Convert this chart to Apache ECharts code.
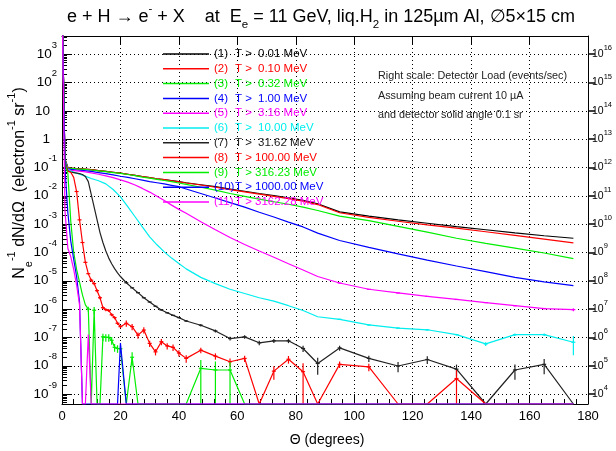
<!DOCTYPE html>
<html>
<head>
<meta charset="utf-8">
<script src="https://cdn.jsdelivr.net/npm/echarts@6/dist/echarts.min.js"></script>
<style>
html, body { margin: 0; padding: 0; background: #fff; }
#main { width: 616px; height: 451px; }
</style>
</head>
<body>
<div id="main"></div>
<script>
// bin centres (degrees)
var thetaA = [0.1, 1, 2, 3, 5, 7.5, 10, 12.5, 15, 17.5, 20, 22.5, 25, 27.5, 30, 32.5, 35, 37.5, 40,
  42.5, 47.5, 52.5, 57.5, 62.5, 67.5, 72.5, 77.5, 82.5, 87.5, 95, 105, 115, 125, 135, 145, 155, 165, 175];
var thetaB = [0.1, 1, 2, 3, 4, 5, 6, 7, 8, 9, 10, 11, 12, 13, 14, 15, 16, 17, 18, 19, 20,
  22, 24, 26, 28, 30, 32, 34, 36, 38, 40,
  42.5, 47.5, 52.5, 57.5, 62.5, 67.5, 72.5, 77.5, 82.5, 87.5, 95, 105, 115, 125, 135, 145, 155, 165, 175];

var Z = -99; // empty bin -> drawn on the bottom of the frame

// log10( Ne^-1 dN/dOmega )
var lg1 = [4.5, -0.7, -1.0, -1.02, -1.04, -1.06, -1.08, -1.11, -1.14, -1.17, -1.2, -1.24, -1.28, -1.32, -1.36, -1.4, -1.43, -1.46, -1.5,
  -1.54, -1.61, -1.68, -1.76, -1.84, -1.92, -1.99, -2.07, -2.16, -2.28, -2.57, -2.72, -2.85, -2.97, -3.09, -3.2, -3.31, -3.41, -3.5];
var lg2 = [4.5, -0.7, -1.0, -1.02, -1.04, -1.06, -1.08, -1.11, -1.14, -1.17, -1.2, -1.24, -1.28, -1.32, -1.36, -1.4, -1.43, -1.47, -1.51,
  -1.55, -1.62, -1.7, -1.78, -1.86, -1.94, -2.02, -2.1, -2.19, -2.31, -2.6, -2.76, -2.9, -3.03, -3.14, -3.27, -3.4, -3.53, -3.66];
var lg3 = [4.5, -0.72, -1.02, -1.03, -1.05, -1.07, -1.09, -1.12, -1.15, -1.18, -1.21, -1.25, -1.29, -1.34, -1.38, -1.42, -1.46, -1.5, -1.55,
  -1.6, -1.7, -1.8, -1.92, -2.02, -2.12, -2.21, -2.3, -2.4, -2.52, -2.72, -2.88, -3.08, -3.28, -3.5, -3.68, -3.85, -4.02, -4.22];
var lg4 = [4.5, -0.75, -1.05, -1.07, -1.09, -1.11, -1.14, -1.18, -1.22, -1.26, -1.31, -1.35, -1.4, -1.45, -1.5, -1.54, -1.58, -1.63, -1.68,
  -1.76, -1.92, -2.08, -2.24, -2.4, -2.58, -2.75, -2.93, -3.1, -3.32, -3.58, -3.82, -4.05, -4.27, -4.48, -4.68, -4.88, -5.04, -5.17];
var lg5 = [4.5, -0.77, -1.07, -1.1, -1.12, -1.15, -1.19, -1.24, -1.3, -1.36, -1.44, -1.52, -1.62, -1.74, -1.87, -2.02, -2.17, -2.33, -2.48,
  -2.62, -2.92, -3.2, -3.47, -3.72, -3.95, -4.17, -4.4, -4.62, -4.85, -5.08, -5.3, -5.43, -5.55, -5.66, -5.77, -5.88, -5.98, -6.02];
var lg6 = [4.5, -0.78, -1.08, -1.13, -1.2, -1.29, -1.39, -1.47, -1.58, -1.78, -2.04, -2.38, -2.74, -3.1, -3.45, -3.73, -3.98, -4.2, -4.39,
  -4.58, -4.88, -5.1, -5.3, -5.45, -5.6, -5.72, -5.88, -6.05, -6.27, -6.36, -6.56, -6.67, -6.73, -6.9, -7.23, -6.9, -6.9, -7.17];

var lg7 = [4.5, -0.8, -1.12, -1.16, -1.18, -1.2, -1.22, -1.25, -1.32, -1.5, -1.95, -2.4, -2.85, -3.3, -3.65, -3.95, -4.2, -4.4, -4.57, -4.72, -4.85,
  -5.07, -5.25, -5.42, -5.6, -5.75, -5.9, -6.03, -6.13, -6.22, -6.3,
  -6.42, -6.57, -6.77, -7.04, -6.98, -7.19, -7.12, -7.12, -7.39, -7.92, -7.37, -7.74, -8.01, -7.78, -8.12, Z, -8.15, -7.95, Z];
var lg8 = [4.5, -0.85, -1.13, -1.17, -1.35, -1.85, -2.85, -3.65, -4.35, -4.75, -4.98, -5.1, -5.35, -5.6, -5.95, -6.02, -6.05, -6.2, -6.3, -6.5, -6.62,
  -6.5, -6.62, -6.92, -6.74, -7.21, -7.51, -7.15, -7.3, -7.35, -7.55,
  -7.74, -7.45, -7.66, -7.86, -7.74, Z, -8.19, -7.77, -8.21, Z, -7.95, -8.04, Z, Z, -8.45, Z, Z, Z, Z];
var lg9 = [4.5, -0.9, -1.2, -2.9, -4.0, -4.6, -5.05, -5.5, -5.85, -6.0, Z, -6.04, Z, Z, -6.98, -7.0, -7.0, -7.1, -7.35, -7.39, -7.4,
  Z, -7.7, Z, Z, Z, Z, Z, Z, Z, Z,
  Z, -8.09, -8.15, -8.15, Z, Z, Z, Z, Z, Z, Z, Z, Z, Z, Z, Z, Z, Z, Z];
var lg10 = [4.5, -1.0, -2.6, -3.6, -4.25, -4.85, -5.75, Z, Z, Z, Z, Z, Z, Z, Z, Z, Z, Z, Z, Z, -7.2,
  Z, Z, Z, Z, Z, Z, Z, Z, Z, Z,
  Z, Z, Z, Z, Z, Z, Z, Z, Z, Z, Z, Z, Z, Z, Z, Z, Z, Z, Z];
var lg11 = [4.5, -2.5, -3.85, -4.15, -4.6, -5.15, -5.85, Z, Z, -6.9, Z, Z, Z, Z, Z, Z, Z, Z, Z, Z, Z,
  Z, Z, Z, Z, Z, Z, Z, Z, Z, Z,
  Z, Z, Z, Z, Z, Z, Z, Z, Z, Z, Z, Z, Z, Z, Z, Z, Z, Z, Z];

// relative statistical errors (fraction of the value), 0 = no bar drawn
var err5 = [0, 0, 0, 0, 0, 0, 0, 0, 0, 0, 0, 0, 0, 0, 0, 0, 0, 0, 0,
  0, 0, 0, 0, 0, 0, 0, 0, 0, 0, 0.02, 0.02, 0.03, 0.03, 0.03, 0.04, 0.04, 0.05, 0.12];
var err6 = [0, 0, 0, 0, 0, 0, 0, 0, 0, 0, 0, 0, 0, 0, 0, 0, 0, 0, 0,
  0, 0, 0, 0, 0, 0, 0, 0, 0, 0, 0.03, 0.04, 0.05, 0.05, 0.06, 0.15, 0.1, 0.1, 0.65];
var err7 = [0, 0, 0, 0, 0, 0, 0, 0, 0, 0, 0, 0, 0, 0, 0, 0, 0, 0, 0, 0, 0,
  0.04, 0.04, 0.04, 0.04, 0.04, 0.05, 0.05, 0.05, 0.05, 0.05,
  0.08, 0.1, 0.12, 0.15, 0.14, 0.18, 0.17, 0.17, 0.25, 0.6, 0.2, 0.25, 0.4, 0.3, 0.45, 0, 0.55, 0.55, 0];
var err8 = [0, 0, 0, 0, 0, 0.04, 0.04, 0.04, 0.04, 0.04, 0.12, 0.12, 0.12, 0.12, 0.12, 0.12, 0.12, 0.12, 0.12, 0.12, 0.12,
  0.25, 0.25, 0.25, 0.25, 0.25, 0.25, 0.25, 0.25, 0.25, 0.25,
  0.3, 0.22, 0.25, 0.3, 0.25, 0, 0.5, 0.3, 1, 0, 0.25, 0.3, 0, 0, 1, 0, 0, 0, 0];
var err9 = [0, 0, 0, 0, 0, 0, 0, 0, 0, 0.2, 0, 0.3, 0, 0, 0.3, 0.3, 0.3, 0.3, 0.3, 0.3, 0.3,
  0, 0.5, 0, 0, 0, 0, 0, 0, 0, 0,
  0, 0.95, 1, 1, 0, 0, 0, 0, 0, 0, 0, 0, 0, 0, 0, 0, 0, 0, 0];

var labels = ['(1)', '(2)', '(3)', '(4)', '(5)', '(6)', '(7)', '(8)', '(9)', '(10)', '(11)'];
var thresholds = ['0.01', '0.10', '0.32', '1.00', '3.16', '10.00', '31.62', '100.00', '316.23', '1000.00', '3162.28'];
var colors = ['#000000', '#ff0000', '#00ee00', '#0000ff', '#ff00ff', '#00eeee', '#222222', '#ff0000', '#00ee00', '#0000ff', '#ff00ff'];

var curves = [
  [thetaA, lg1, null], [thetaA, lg2, null], [thetaA, lg3, null], [thetaA, lg4, null],
  [thetaA, lg5, err5], [thetaA, lg6, err6], [thetaB, lg7, err7], [thetaB, lg8, err8],
  [thetaB, lg9, err9], [thetaB, lg10, null], [thetaB, lg11, null]
];

var Y_MIN = -9.35, Y_MAX = 3.64, RIGHT_SHIFT = 13;   // right scale = left * 1e13
var FONT = 'Liberation Sans, Arial, sans-serif';

function clampLg(v) { return v < Y_MIN ? Y_MIN : v; }

function logMinor(lo, hi) {
  var out = [];
  for (var n = Math.floor(lo); n <= Math.ceil(hi); n++) {
    for (var k = 2; k <= 9; k++) {
      var v = n + Math.log10(k);
      if (v > lo && v < hi) out.push(v);
    }
  }
  return out;
}
function range(a, b) { var r = []; for (var i = a; i <= b; i++) r.push(i); return r; }

function expLabel(v) {
  if (v === 0) return '{p|1}';
  if (v === 1) return '{p|10}';
  return '{b|10}{s|' + v + '}';
}

var series = [];
curves.forEach(function (c, i) {
  series.push({
    name: labels[i],
    type: 'line',
    showSymbol: false,
    clip: true,
    z: 3,
    lineStyle: { color: colors[i], width: 1.2 },
    itemStyle: { color: colors[i] },
    data: c[0].map(function (t, j) { return [t, clampLg(c[1][j])]; })
  });
});
curves.forEach(function (c, i) {
  var err = c[2];
  if (!err) return;
  var d = [];
  c[0].forEach(function (t, j) {
    if (err[j] <= 0 || c[1][j] <= Y_MIN) return;
    var v = Math.pow(10, c[1][j]);
    var hi = Math.log10(v * (1 + err[j]));
    var lo = err[j] >= 1 ? Y_MIN : Math.log10(v * (1 - err[j]));
    d.push([t, clampLg(lo), hi, c[1][j]]);
  });
  var col = colors[i];
  series.push({
    type: 'custom',
    silent: true,
    clip: true,
    z: 3,
    encode: { x: 0, y: [1, 2, 3] },
    data: d,
    renderItem: function (params, api) {
      var x = api.value(0);
      var pLo = api.coord([x, api.value(1)]);
      var pHi = api.coord([x, api.value(2)]);
      var pMid = api.coord([x, api.value(3)]);
      return {
        type: 'group',
        children: [
          { type: 'line', shape: { x1: pLo[0], y1: pLo[1], x2: pHi[0], y2: pHi[1] }, style: { stroke: col, lineWidth: 1.2 } },
          { type: 'line', shape: { x1: pMid[0] - 2, y1: pMid[1], x2: pMid[0] + 2, y2: pMid[1] }, style: { stroke: col, lineWidth: 1.2 } }
        ]
      };
    }
  });
});

var dotted = { show: true, lineStyle: { color: '#000', width: 1, type: [1, 3] } };
var legendFont = { fontFamily: FONT, fontSize: 11.5, lineHeight: 14 };

var option = {
  animation: false,
  backgroundColor: '#fff',
  grid: { left: 62, right: 28, top: 36, bottom: 47, containLabel: false },
  legend: {
    left: 163, top: 47, padding: 0,
    orient: 'vertical',
    selectedMode: false,
    icon: 'rect',
    itemWidth: 46, itemHeight: 1.5,
    itemGap: 0.8,
    data: labels.map(function (n, i) { return { name: n, textStyle: { color: colors[i] } }; }),
    formatter: function (name) {
      var i = labels.indexOf(name);
      var v = thresholds[i];
      var style = v.length <= 5 ? 'c' : 'w';
      return '{a|' + name + '}{b|T >}{' + style + '|' + v + ' MeV}';
    },
    textStyle: {
      fontFamily: FONT, fontSize: 11.5, lineHeight: 14,
      rich: {
        a: Object.assign({ width: 21 }, legendFont),
        b: Object.assign({ width: 20 }, legendFont),
        c: Object.assign({ padding: [0, 0, 0, 3] }, legendFont),
        w: Object.assign({}, legendFont)
      }
    }
  },
  xAxis: [{
    type: 'value', position: 'bottom', min: 0, max: 180, interval: 20,
    axisLine: { onZero: false, lineStyle: { color: '#000', width: 1 } },
    axisTick: { inside: true, length: 9, lineStyle: { color: '#000' } },
    minorTick: { show: true, splitNumber: 5, length: 5, lineStyle: { color: '#000' } },
    splitLine: dotted,
    axisLabel: { color: '#000', fontFamily: FONT, fontSize: 13, margin: 6,
      formatter: function (v) { return String(v); } }
  }, {
    type: 'value', position: 'top', min: 0, max: 180, interval: 20,
    axisLine: { onZero: false, lineStyle: { color: '#000', width: 1 } },
    axisTick: { inside: true, length: 9, lineStyle: { color: '#000' } },
    splitLine: { show: false }, axisLabel: { show: false }
  }],
  yAxis: [{
    type: 'value', position: 'left', min: Y_MIN, max: Y_MAX,
    axisLine: { onZero: false, lineStyle: { color: '#000', width: 1 } },
    axisTick: { inside: true, length: 10, customValues: range(-9, 3), lineStyle: { color: '#000' } },
    splitLine: dotted,
    axisLabel: {
      customValues: range(-9, 3), margin: 5, color: '#000',
      formatter: expLabel,
      rich: {
        p: { fontFamily: FONT, fontSize: 13.5, lineHeight: 28, padding: [0, 7, 0, 0] },
        b: { fontFamily: FONT, fontSize: 13.5, lineHeight: 28 },
        s: { fontFamily: FONT, fontSize: 9.5, lineHeight: 10, verticalAlign: 'top' }
      }
    }
  }, {
    type: 'value', position: 'left', min: Y_MIN, max: Y_MAX,
    axisLine: { show: false },
    axisTick: { inside: true, length: 5, customValues: logMinor(Y_MIN, Y_MAX), lineStyle: { color: '#000' } },
    splitLine: { show: false }, axisLabel: { show: false }
  }, {
    type: 'value', position: 'right', min: Y_MIN + RIGHT_SHIFT, max: Y_MAX + RIGHT_SHIFT,
    axisLine: { onZero: false, lineStyle: { color: '#000', width: 1 } },
    axisTick: { inside: false, length: 7, customValues: range(4, 16), lineStyle: { color: '#000', width: 1.5 } },
    splitLine: { show: false },
    axisLabel: {
      customValues: range(4, 16), margin: 4, color: '#000',
      formatter: function (v) { return '{b|10}{s|' + v + '}'; },
      rich: {
        b: { fontFamily: FONT, fontSize: 10.5, lineHeight: 20 },
        s: { fontFamily: FONT, fontSize: 7.5, lineHeight: 10, verticalAlign: 'top' }
      }
    }
  }, {
    type: 'value', position: 'right', min: Y_MIN + RIGHT_SHIFT, max: Y_MAX + RIGHT_SHIFT,
    axisLine: { show: false },
    axisTick: { inside: false, length: 4, customValues: logMinor(Y_MIN + RIGHT_SHIFT, Y_MAX + RIGHT_SHIFT), lineStyle: { color: '#000' } },
    splitLine: { show: false }, axisLabel: { show: false }
  }],
  graphic: [{
    type: 'text', x: 321, y: 17,
    style: {
      text: '{n|e + H \u2192 e}{u|-}{n| + X    at  E}{d|e}{n| = 11 GeV, liq.H}{d|2}{n| in 125\u00b5m Al, \u22055\u00d715 cm}',
      align: 'center', verticalAlign: 'middle', fill: '#000',
      rich: {
        n: { fontFamily: FONT, fontSize: 18, lineHeight: 28 },
        u: { fontFamily: FONT, fontSize: 11.5, lineHeight: 12, verticalAlign: 'top' },
        d: { fontFamily: FONT, fontSize: 11.5, lineHeight: 12, verticalAlign: 'bottom' }
      }
    }
  }, {
    type: 'text', x: 20, y: 183, rotation: Math.PI / 2,
    style: {
      text: '{n|N}{d|e}{u|-1}{n| dN/d\u03a9  (electron}{u|-1}{n| sr}{u|-1}{n|)}',
      align: 'center', verticalAlign: 'middle', fill: '#000',
      rich: {
        n: { fontFamily: FONT, fontSize: 16, lineHeight: 28 },
        u: { fontFamily: FONT, fontSize: 11, lineHeight: 12, verticalAlign: 'top' },
        d: { fontFamily: FONT, fontSize: 11, lineHeight: 12, verticalAlign: 'bottom' }
      }
    }
  }, {
    type: 'text', x: 327, y: 440,
    style: { text: '\u0398 (degrees)', align: 'center', verticalAlign: 'middle', fill: '#000', fontFamily: FONT, fontSize: 14 }
  }, {
    type: 'text', x: 378, y: 76,
    style: { text: 'Right scale: Detector Load (events/sec)', verticalAlign: 'middle', fill: '#222', fontFamily: FONT, fontSize: 10.8 }
  }, {
    type: 'text', x: 378, y: 96,
    style: { text: 'Assuming beam current 10 \u00b5A', verticalAlign: 'middle', fill: '#222', fontFamily: FONT, fontSize: 10.8 }
  }, {
    type: 'text', x: 378, y: 115,
    style: { text: 'and detector solid angle 0.1 sr', verticalAlign: 'middle', fill: '#222', fontFamily: FONT, fontSize: 10.8 }
  }],
  series: series
};

var chart = echarts.init(document.getElementById('main'), null, { renderer: 'canvas' });
chart.setOption(option);
</script>
</body>
</html>
